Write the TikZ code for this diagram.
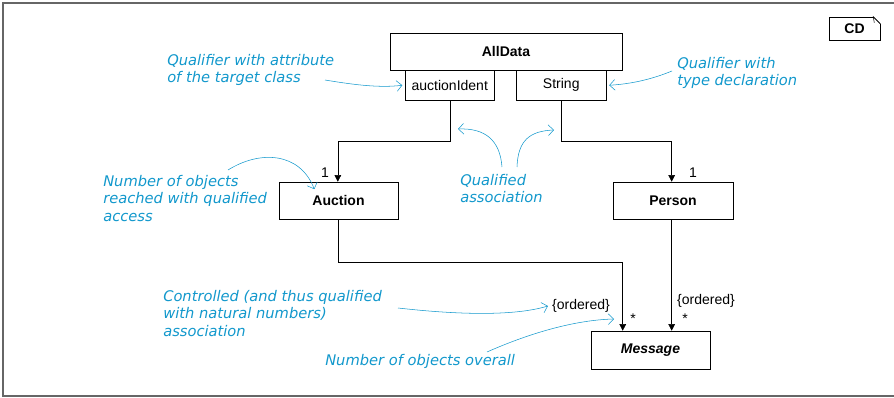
\documentclass[tikz,border=0pt]{standalone}
\usepackage{fontspec}
\setmainfont{Liberation Sans}
\newfontfamily\notefont{DejaVu Sans}
\usetikzlibrary{arrows.meta,calc}
\definecolor{noteblue}{RGB}{18,152,204}
\tikzset{
  cls/.style={
    draw,
    thin,
    inner sep = 0pt,
    font=\fontsize{10.5}{12}\selectfont\bfseries
  },
  qual/.style={
    draw,
    thin,
    inner sep = 0pt,
    minimum height=22.5pt,
    font=\fontsize{10.5}{12}\selectfont
  },
  assoc/.style={
    thin,
    -{Triangle[length=5pt,width=5pt]}
  },
  mult/.style={
    inner sep = 0pt,
    font=\fontsize{10.5}{12}\selectfont
  },
  note/.style={
    text=noteblue,
    align=left,
    inner sep = 0pt,
    font=\notefont\itshape\fontsize{11}{13}\selectfont
  },
  hint/.style={
    draw=noteblue,
    thin,
    -{Straight Barb[length=4pt,width=8pt]}
  },
  frame/.style={
    draw=black!60,
    line width=1.5pt
  }
}

\begin{document}
\begin{tikzpicture}[x=0.75pt,y=-0.75pt]
  \useasboundingbox (0,0) rectangle (894,398);
  \draw[frame] (894,3) -- (3,3) -- (3,396) -- (894,396);

  % diagram tag
  \node[cls, minimum width=38.25pt, minimum height=17.25pt] (cd) at (854.5,28.5) {CD};
  \fill[white] ($(cd.north east)+(-7,-1)$) rectangle ($(cd.north east)+(1,7)$);
  \draw[thin] ($(cd.north east)+(-7,0)$) -- ($(cd.north east)+(0,7)$) -- ($(cd.north east)+(-7,0)$)
    -- ($(cd.north east)+(-6,6)$) -- cycle;
  \draw[thin] ($(cd.north east)+(-7,0)$) -- ($(cd.north east)+(0,7)$) -- (cd.south east);

  % classes
  \node[cls, minimum width=174pt, minimum height=27.75pt] (allData) at (506,51.5) {AllData};
  \node[qual, minimum width=66.75pt, anchor=north west] (auctionIdent) at (405,70) {auctionIdent};
  \node[qual, minimum width=67.5pt, anchor=north west] (string) at (516,70) {String};
  \node[cls, minimum width=89.25pt, minimum height=27.75pt] (auction) at (338.5,200.5) {Auction};
  \node[cls, minimum width=90pt, minimum height=27.75pt] (person) at (673,200.5) {Person};
  \node[cls, minimum width=89.25pt, minimum height=28.5pt, font=\fontsize{10.5}{12}\selectfont\bfseries\itshape]
    (message) at (650.5,350) {Message};

  % associations
  \coordinate (mIn) at ($(message.north west)+(32,0)$);
  \draw[assoc] (auctionIdent.south) -- ++(0,41) -| ([xshift=-0.5]auction.north);
  \draw[assoc] (string.south) -- ++(0,41) -| ([xshift=-1]person.north);
  \draw[assoc] (auction.south) -- ++(0,43) -| (mIn);
  \draw[assoc] ([xshift=-1]person.south) -- ([xshift=-1]person.south |- message.north);

  \node[mult] (oneAuction) at (325,173) {1};
  \node[mult] (onePerson) at (693,173) {1};
  \node[mult] (ordA) at (581,306) {\{ordered\}};
  \node[mult] (starA) at (633,319) {*};
  \node[mult] (ordP) at (706,301) {\{ordered\}};
  \node[mult] (starP) at (685,319) {*};

  % comments
  \node[note, anchor=north west] (noteAttr) at (167,54) {Qualifier with attribute\\of the target class};
  \node[note, anchor=north west] (noteType) at (677,57) {Qualifier with\\type declaration};
  \node[note, anchor=north west] (noteReach) at (103,175) {Number of objects\\reached with qualified\\access};
  \node[note, anchor=north west] (noteQual) at (460,174) {Qualified\\association};
  \node[note, anchor=north west] (noteCtrl) at (163,290) {Controlled (and thus qualified\\with natural numbers)\\association};
  \node[note, anchor=north west] (noteAll) at (325,354) {Number of objects overall};

  \coordinate (hAttr) at (325,80);
  \coordinate (hType) at (672,71);
  \coordinate (hReach) at (228,170);
  \coordinate (hQualL) at (502,167);
  \coordinate (hQualR) at (517,167);
  \coordinate (hCtrl) at (398,308);
  \coordinate (hAll) at (487,352);

  \draw[hint] (hAttr) .. controls (355,85) and (380,88) .. ([xshift=-2]auctionIdent.west);
  \draw[hint] (hType) .. controls (650,80) and (630,84) .. ([xshift=2]string.east);
  \draw[hint] (hReach) .. controls (260,150) and (300,152) .. ([xshift=-8,yshift=-16]oneAuction.north);
  \draw[hint] (hQualL) .. controls (500,140) and (485,128) .. (458,129);
  \draw[hint] (hQualR) .. controls (518,140) and (530,131) .. (554,130);
  \draw[hint] (hCtrl) .. controls (460,315) and (515,316) .. ([xshift=-3]ordA.west);
  \draw[hint] (hAll) .. controls (530,333) and (575,320) .. (614,319);
\end{tikzpicture}
\end{document}
